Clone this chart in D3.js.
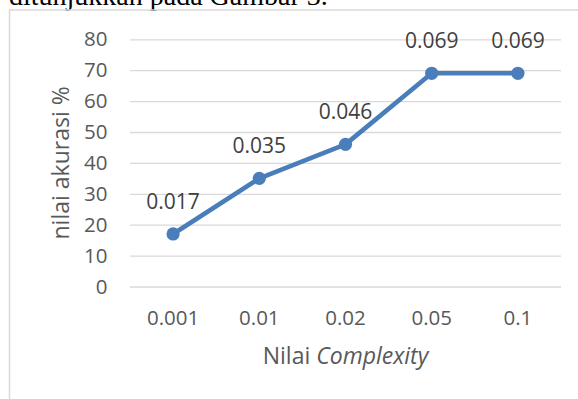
<!DOCTYPE html>
<html>
<head>
<meta charset="utf-8">
<script src="https://cdn.jsdelivr.net/npm/d3@7"></script>
<style>
  html, body { margin: 0; padding: 0; background: #ffffff; }
  svg { display: block; }
</style>
</head>
<body>
<script>
// Complexity parameter values (x categories)
const categories = ["0.001", "0.01", "0.02", "0.05", "0.1"];
// Accuracy per complexity value, in percent
const accuracy = [17, 35, 46, 69, 69];
// Y axis ticks
const yTicks = [0, 10, 20, 30, 40, 50, 60, 70, 80];

const width = 578, height = 399;
const plot = { left: 130, right: 561, top: 39.3, bottom: 286.5 };

const svg = d3.select("body").append("svg")
  .attr("width", width)
  .attr("height", height);

svg.append("rect").attr("width", width).attr("height", height).attr("fill", "#ffffff");

// Caption line from the surrounding document, clipped at the top
svg.append("text")
  .attr("x", 9)
  .attr("y", 4.5)
  .attr("font-family", "'Liberation Serif', 'Times New Roman', serif")
  .attr("font-size", 28)
  .attr("fill", "#000000")
  .text("ditunjukkan pada Gambar 3.");

// Chart area border
svg.append("rect")
  .attr("x", 9.5)
  .attr("y", 10)
  .attr("width", 640)
  .attr("height", 440)
  .attr("fill", "none")
  .attr("stroke", "#d9d9d9")
  .attr("stroke-width", 1.5);

const x = d3.scaleBand().domain(categories).range([plot.left, plot.right]);
const y = d3.scaleLinear().domain([0, 80]).range([plot.bottom, plot.top]);

const font = "'Open Sans', 'Noto Sans', sans-serif";

// Horizontal gridlines and y tick labels
const yAxis = d3.axisLeft(y)
  .tickValues(yTicks)
  .tickSize(-(plot.right - plot.left))
  .tickPadding(22.5)
  .tickFormat(d3.format("d"));

const gy = svg.append("g")
  .attr("transform", `translate(${plot.left},0)`)
  .call(yAxis);
gy.select(".domain").remove();
gy.selectAll(".tick line").attr("stroke", "#d9d9d9").attr("stroke-width", 1.3);
gy.selectAll(".tick text")
  .attr("font-family", font)
  .attr("font-size", 20.5)
  .attr("fill", "#595959");

// X tick labels
const xAxis = d3.axisBottom(x).tickSize(0).tickPadding(0);
const gx = svg.append("g")
  .attr("transform", `translate(0,${plot.bottom})`)
  .call(xAxis);
gx.select(".domain").remove();
gx.selectAll(".tick text")
  .attr("dy", null)
  .attr("y", 38.5)
  .attr("font-family", font)
  .attr("font-size", 20.5)
  .attr("fill", "#595959");

// Axis titles
const xTitle = svg.append("text")
  .attr("x", (plot.left + plot.right) / 2)
  .attr("y", 364)
  .attr("text-anchor", "middle")
  .attr("font-family", font)
  .attr("font-size", 23)
  .attr("fill", "#595959");
xTitle.append("tspan").text("Nilai ");
xTitle.append("tspan").attr("font-style", "italic").text("Complexity");

svg.append("text")
  .attr("transform", `translate(68.5,${(plot.top + plot.bottom) / 2}) rotate(-90)`)
  .attr("text-anchor", "middle")
  .attr("font-family", font)
  .attr("font-size", 23)
  .attr("fill", "#595959")
  .text("nilai akurasi %");

// Series line and markers
const points = categories.map((c, i) => ({ c, v: accuracy[i] }));
const cx = d => x(d.c) + x.bandwidth() / 2;

svg.append("path")
  .datum(points)
  .attr("fill", "none")
  .attr("stroke", "#4a7ebb")
  .attr("stroke-width", 4.6)
  .attr("stroke-linejoin", "round")
  .attr("d", d3.line().x(cx).y(d => y(d.v)));

svg.selectAll("circle.pt")
  .data(points)
  .join("circle")
  .attr("class", "pt")
  .attr("cx", cx)
  .attr("cy", d => y(d.v))
  .attr("r", 6.6)
  .attr("fill", "#4a7ebb");

// Data labels (number format shows the value scaled by 1/1000)
const labelFmt = v => d3.format(".3f")(v / 1000);
svg.selectAll("text.lbl")
  .data(points)
  .join("text")
  .attr("class", "lbl")
  .attr("x", cx)
  .attr("y", d => y(d.v) - 25)
  .attr("text-anchor", "middle")
  .attr("font-family", font)
  .attr("font-size", 21)
  .attr("fill", "#404040")
  .text(d => labelFmt(d.v));
</script>
</body>
</html>
